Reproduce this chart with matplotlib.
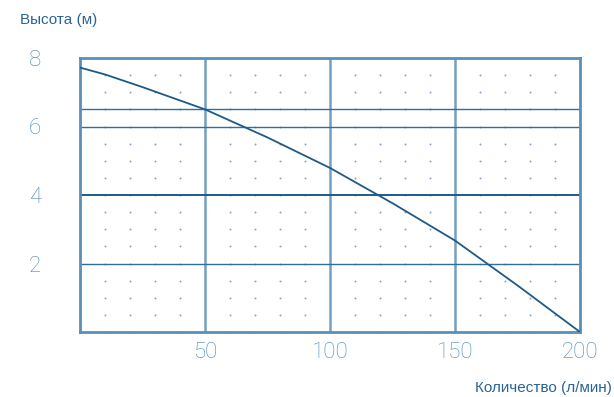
import numpy as np
import matplotlib.pyplot as plt

# pump curve
flow = [0, 10, 25, 50, 75, 100, 125, 150, 175, 200]
head = [7.72, 7.52, 7.15, 6.5, 5.68, 4.79, 3.76, 2.67, 1.36, 0.0]

x_ticks = [50, 100, 150, 200]
y_ticks = [2, 4, 6, 8]
h_lines = [2, 4, 6, 6.5]
v_lines = [50, 100, 150]

dark = '#1d5a8a'
mid = '#2f6f9f'
light = '#5b8fb8'

fig = plt.figure(figsize=(6.14, 3.97), dpi=100)
ax = fig.add_axes([80 / 614, 65 / 397, 500 / 614, 274 / 397])

# dotted background grid
dx = [v for v in range(10, 200, 10) if v % 50 != 0]
dy = np.arange(0, 8.01, 0.5)
gx, gy = np.meshgrid(dx, dy)
ax.scatter(gx.ravel(), gy.ravel(), s=2.0, color='#7fa6c6', linewidths=0, zorder=1)

for v in v_lines:
    ax.axvline(v, color=light, lw=1.8, alpha=0.85, zorder=2)
for h in h_lines:
    ax.axhline(h, color=dark if h == 4 else mid, lw=1.4 if h == 4 else 1.0, zorder=2)

ax.plot(flow, head, color=dark, lw=1.3, zorder=3)

ax.set_xlim(0, 200)
ax.set_ylim(0, 8)
for s in ax.spines.values():
    s.set_color(light)
    s.set_linewidth(2)

ax.set_xticks(x_ticks)
ax.set_yticks(y_ticks)
ax.tick_params(length=0, labelsize=16, labelcolor='#4f88b4')
for lab in ax.get_xticklabels() + ax.get_yticklabels():
    lab.set_family('Roboto')
    lab.set_fontweight('light')
ax.tick_params(axis='y', pad=28)
ax.tick_params(axis='x', pad=7)

fig.text(20 / 614, 1 - 20 / 397, 'Высота (м)', fontsize=11, color='#2a6496',
         va='center', ha='left', family='Liberation Sans')
fig.text(612 / 614, 1 - 388 / 397, 'Количество (л/мин)', fontsize=11, color='#2a6496',
         va='center', ha='right', family='Liberation Sans')

fig.savefig('out.png', dpi=100)
